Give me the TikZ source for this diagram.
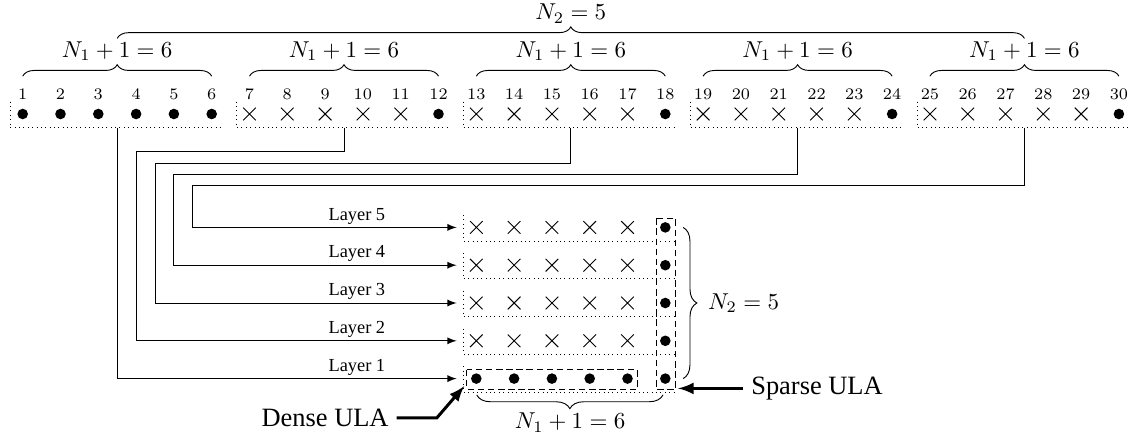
\documentclass[tikz,border=0pt]{standalone}
\usepackage{amsmath}
\usepackage{amssymb}
\usepackage{fontspec}
\setmainfont{Liberation Serif}
\usetikzlibrary{arrows, shapes.misc, decorations.pathreplacing}
\newcommand{\ulatxt}{\fontsize{11.5pt}{13pt}\selectfont}
\tikzset{
    dot/.style={circle, fill, inner sep=0pt, minimum size=4.6pt},
    cross/.style={cross out, draw, inner sep=0pt, minimum size=5.1pt},
    idx/.style={font=\scriptsize, inner sep=0.5pt},
    cellbox/.style={dash pattern=on 0.4pt off 1.5pt},
    ulabox/.style={dash pattern=on 2.8pt off 1.6pt},
    brc/.style={decorate, decoration={brace, amplitude=5pt}},
    brcwide/.style={decorate, decoration={brace, amplitude=6pt}},
    feed/.style={->, >=latex},
    pointer/.style={->, >=latex, line width=1.3pt},
}

\begin{document}
\begin{tikzpicture}[x=0.578cm, y=0.578cm]
    \useasboundingbox (-0.6005,-8.519) rectangle (29.24,3.016);
    % virtual array, 5 subarrays
    \foreach \i in {1,...,30} {
        \pgfmathtruncatemacro{\k}{mod(\i,6)}
        \node[idx](n_\i) at (\i-1,0.53) {$\i$};
        \ifnum\i<7 \node[dot](a_\i) at (\i-1,0) {};
        \else\ifnum\k=0 \node[dot](a_\i) at (\i-1,0) {};
        \else \node[cross](a_\i) at (\i-1,0) {};
        \fi\fi
    }
    \foreach \g in {0,...,4} {
        \pgfmathtruncatemacro{\gg}{\g+1}
        \draw[cellbox] (6*\g-0.336,0.325) |- (6*\g+5.265,-0.36);
        \draw[brc] (6*\g,1.0) -- (6*\g+5,1.0);
        \node(sub_\gg) at (6*\g+2.5,1.67) {$N_1+1=6$};
        \coordinate (out_\gg) at (6*\g+2.5,-0.36);
    }
    \draw[brc] (2.5,2.0) -- (26.5,2.0);
    \node(n2_top) at (14.5,2.66) {$N_2=5$};

    % layers
    \foreach \r in {1,...,5} {
        \foreach \c in {1,...,6} {
            \ifnum\r=1 \node[dot](l_\r_\c) at (11+\c,\r-8) {};
            \else\ifnum\c=6 \node[dot](l_\r_\c) at (11+\c,\r-8) {};
            \else \node[cross](l_\r_\c) at (11+\c,\r-8) {};
            \fi\fi
        }
        \draw[cellbox] (11.664,\r-7.675) |- (17.265,\r-8.36);
        \node[font=\footnotesize](lbl_\r) at (8.84,\r-7.7) {Layer \r};
        \coordinate (in_\r) at (11.48,\r-8);
    }
    \draw[feed] (out_1) |- (in_1);
    \draw[feed] (out_2) |- (3.0,-1.0) |- (in_2);
    \draw[feed] (out_3) |- (3.5,-1.3) |- (in_3);
    \draw[feed] (out_4) |- (4.0,-1.6) |- (in_4);
    \draw[feed] (out_5) |- (4.5,-1.9) |- (in_5);

    \draw[ulabox] (11.75,-6.77) rectangle (16.26,-7.28);
    \draw[ulabox] (16.755,-2.76) rectangle (17.28,-7.28);
    \draw[brcwide] (17.47,-3) -- (17.47,-7);
    \node[anchor=west](n2_side) at (17.92,-5) {$N_2=5$};
    \draw[brcwide] (16.94,-7.43) -- (12.01,-7.43);
    \node(n1_bot) at (14.48,-8.17) {$N_1+1=6$};

    \node[font=\ulatxt](dense) at (8.0,-8.04) {Dense ULA};
    \coordinate (dense_tip) at (11.68,-7.2);
    \draw[pointer] (dense.east) -- ++(1.06,0) -- (dense_tip);
    \node[font=\ulatxt, anchor=west](sparse) at (19.06,-7.26) {Sparse ULA};
    \coordinate (sparse_tip) at (17.34,-7.26);
    \draw[pointer] (sparse) -- (sparse_tip);
\end{tikzpicture}
\end{document}
